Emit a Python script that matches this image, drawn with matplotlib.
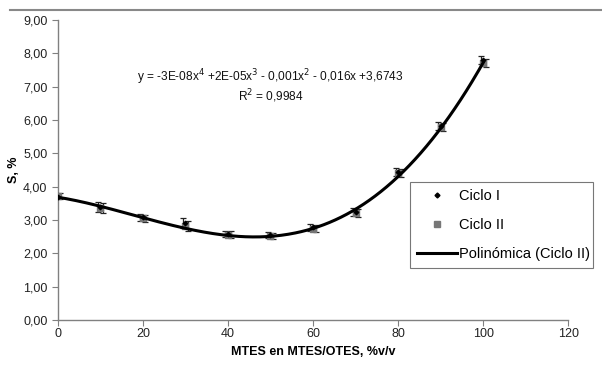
import numpy as np
import matplotlib
matplotlib.use("Agg")
import matplotlib.pyplot as plt
from matplotlib.ticker import FuncFormatter
from matplotlib.lines import Line2D

x_vals = [0, 10, 20, 30, 40, 50, 60, 70, 80, 90, 100]
ciclo1 = [3.70, 3.40, 3.08, 2.90, 2.58, 2.55, 2.78, 3.25, 4.45, 5.82, 7.80]
ciclo2 = [3.72, 3.35, 3.05, 2.82, 2.56, 2.52, 2.74, 3.20, 4.40, 5.78, 7.70]
err1 = [0.08, 0.15, 0.10, 0.15, 0.10, 0.10, 0.10, 0.12, 0.12, 0.12, 0.12]
err2 = [0.08, 0.15, 0.10, 0.15, 0.10, 0.10, 0.10, 0.12, 0.12, 0.12, 0.12]
xticks = [0, 20, 40, 60, 80, 100, 120]
yticks = [0, 1, 2, 3, 4, 5, 6, 7, 8, 9]

plt.rcParams['font.family'] = ['Liberation Sans', 'DejaVu Sans']

fig = plt.figure(figsize=(6.02, 3.65), dpi=100)
ax = fig.add_axes([0.096, 0.123, 0.848, 0.822])

xa = np.array(x_vals, dtype=float)
ax.errorbar(xa - 0.6, ciclo1, yerr=err1, fmt='none', ecolor='#222222', elinewidth=0.9, capsize=2.5, capthick=0.9, zorder=3)
ax.errorbar(xa + 0.6, ciclo2, yerr=err2, fmt='none', ecolor='#222222', elinewidth=0.9, capsize=2.5, capthick=0.9, zorder=3)
ax.scatter(xa, ciclo2, marker='s', s=14, color='#777777', zorder=4)
ax.scatter(xa, ciclo1, marker='D', s=5, color='black', zorder=5)

coef = np.polyfit(xa, ciclo2, 4)
xs = np.linspace(0, 100, 300)
ax.plot(xs, np.polyval(coef, xs), color='black', lw=2.2, zorder=6)

ax.set_xlim(0, 120)
ax.set_ylim(0, 9)
ax.set_xticks(xticks)
ax.set_yticks(yticks)
ax.yaxis.set_major_formatter(FuncFormatter(lambda v, p: f"{v:.2f}".replace('.', ',')))
for s in ['top', 'right']:
    ax.spines[s].set_visible(False)
for s in ['left', 'bottom']:
    ax.spines[s].set_color('#808080')
    ax.spines[s].set_linewidth(1.0)
ax.tick_params(axis='both', direction='out', length=4, color='#808080', labelsize=9, labelcolor='#222222')
ax.tick_params(axis='x', pad=2)
ax.set_xlabel('MTES en MTES/OTES, %v/v', fontsize=9, fontweight='bold', labelpad=4)
ax.set_ylabel('S, %', fontsize=9, fontweight='bold', labelpad=2)

ax.text(0.155, 0.81, r'y = -3E-08x$^{4}$ +2E-05x$^{3}$ - 0,001x$^{2}$ - 0,016x +3,6743',
        transform=ax.transAxes, fontsize=8.6, ha='left', va='center', color='#111111')
ax.text(0.482, 0.747, r'R$^{2}$ = 0,9984', transform=ax.transAxes, fontsize=8.6,
        ha='right', va='center', color='#111111')

# top border line
fig.add_artist(Line2D([0.017, 1.0], [0.973, 0.973], transform=fig.transFigure, color='#888888', lw=1.5))

handles = [
    Line2D([], [], marker='D', ls='none', color='black', markersize=2.5),
    Line2D([], [], marker='s', ls='none', color='#777777', markersize=4.5),
    Line2D([], [], color='black', lw=2.2),
]
labels = ['Ciclo I', 'Ciclo II', 'Polinómica (Ciclo II)']
leg = fig.legend(handles, labels, loc='lower left', bbox_to_anchor=(0.681, 0.266, 0.304, 0.214),
                 mode='expand', fontsize=10.5, frameon=True, fancybox=False, borderpad=0.45,
                 handlelength=2.8, handletextpad=0.1, labelspacing=1.05, borderaxespad=0)
leg.get_frame().set_edgecolor('#555555')
leg.get_frame().set_linewidth(0.8)

fig.savefig('out.png', dpi=100)
